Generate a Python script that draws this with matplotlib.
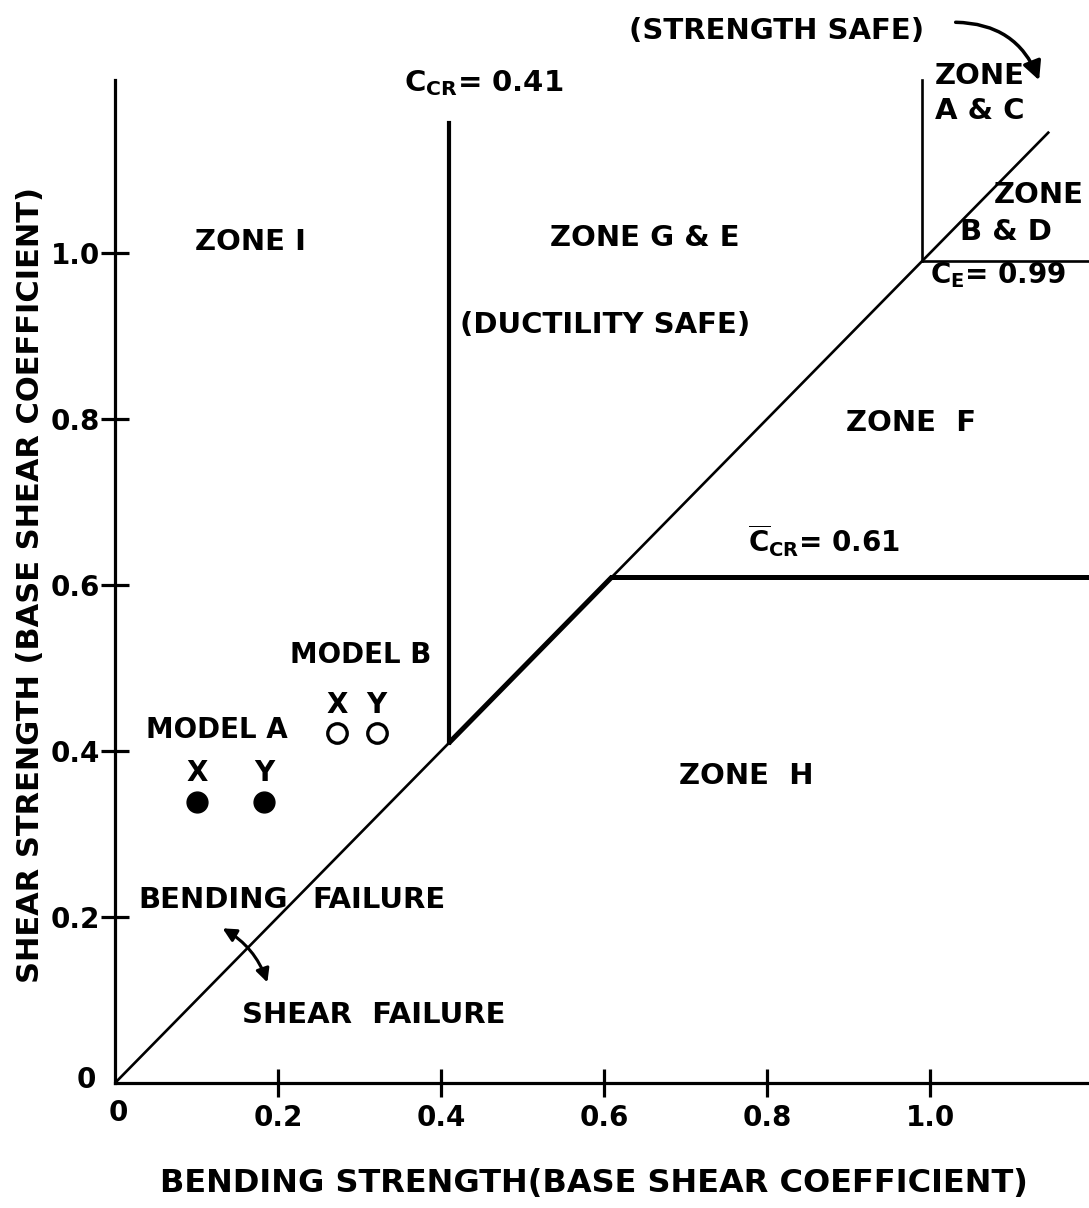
import numpy as np
import matplotlib
matplotlib.use("Agg")
import matplotlib.pyplot as plt

plt.rcParams['font.family'] = ['DejaVu Sans']
plt.rcParams['font.weight'] = 'bold'
plt.rcParams['mathtext.fontset'] = 'custom'
plt.rcParams['mathtext.rm'] = 'DejaVu Sans:bold'
plt.rcParams['mathtext.it'] = 'DejaVu Sans:bold'
plt.rcParams['mathtext.bf'] = 'DejaVu Sans:bold'
plt.rcParams['mathtext.default'] = 'bf'

# boundary coefficients
c_cr = 0.41
c_cr_bar = 0.61
c_e = 0.99
diag_end = 1.145
x_max = 1.195
y_max = 1.30

# model results (bending, shear)
model_a_x = [0.101, 0.183]
model_a_y = [0.339, 0.339]
model_b_x = [0.272, 0.321]
model_b_y = [0.422, 0.422]
dir_labels = ['X', 'Y']

ticks = [0.2, 0.4, 0.6, 0.8, 1.0]
tick_labels = ['0.2', '0.4', '0.6', '0.8', '1.0']

fig = plt.figure(figsize=(10.89, 12.08), dpi=100)
ax = fig.add_axes([115 / 1089, 1 - 1083 / 1208, 974 / 1089, y_max * 830 / 1208])
ax.set_xlim(0, x_max)
ax.set_ylim(0, y_max)

for s in ['top', 'right']:
    ax.spines[s].set_visible(False)
ax.spines['left'].set_bounds(0, 1.208)
ax.spines['left'].set_linewidth(2.3)
ax.spines['bottom'].set_linewidth(2.3)

ax.set_xticks(ticks)
ax.set_xticklabels(tick_labels)
ax.set_yticks(ticks)
ax.set_yticklabels(tick_labels)
ax.tick_params(axis='both', direction='inout', length=20, width=2.3,
               labelsize=20, colors='black')
ax.tick_params(axis='x', pad=5)
ax.tick_params(axis='y', pad=1)
ax.text(-0.035, 0.004, '0', fontsize=20, ha='center', va='center')
ax.text(0.004, -0.036, '0', fontsize=20, ha='center', va='center')

# boundary lines
lw_thin, lw_thick = 1.9, 3.6
ax.plot([0, diag_end], [0, diag_end], color='black', lw=lw_thin)
ax.plot([c_cr, c_cr_bar], [c_cr, c_cr_bar], color='black', lw=lw_thick,
        solid_capstyle='butt')
ax.plot([c_cr, c_cr], [c_cr, 1.157], color='black', lw=3.0)
ax.plot([c_cr_bar, x_max], [c_cr_bar, c_cr_bar], color='black', lw=lw_thick,
        clip_on=False)
ax.plot([c_e, c_e], [c_e, 1.208], color='black', lw=lw_thin)
ax.plot([c_e, x_max], [c_e, c_e], color='black', lw=lw_thin, clip_on=False)

# model points
ax.plot(model_a_x, model_a_y, 'o', color='black', ms=15)
ax.plot(model_b_x, model_b_y, 'o', mfc='white', mec='black', mew=2.4, ms=14)
for x, lab in zip(model_a_x, dir_labels):
    ax.text(x, 0.373, lab, fontsize=20, ha='center', va='center')
for x, lab in zip(model_b_x, dir_labels):
    ax.text(x, 0.455, lab, fontsize=20, ha='center', va='center')
ax.text(0.125, 0.425, 'MODEL A', fontsize=20, ha='center', va='center')
ax.text(0.302, 0.516, 'MODEL B', fontsize=20, ha='center', va='center')

fs = 21
ax.text(0.166, 1.013, 'ZONE I', fontsize=fs, ha='center', va='center')
ax.text(0.650, 1.018, 'ZONE G & E', fontsize=fs, ha='center', va='center')
ax.text(0.601, 0.913, '(DUCTILITY SAFE)', fontsize=fs, ha='center', va='center')
ax.text(0.977, 0.795, 'ZONE  F', fontsize=fs, ha='center', va='center')
ax.text(0.775, 0.370, 'ZONE  H', fontsize=fs, ha='center', va='center')
ax.text(1.006, 1.192, 'ZONE\nA & C', fontsize=fs, ha='left', va='center',
        linespacing=1.3)
ax.text(1.188, 1.070, 'ZONE', fontsize=fs, ha='right', va='center')
ax.text(1.093, 1.025, 'B & D', fontsize=fs, ha='center', va='center')
ax.text(0.355, 1.205, r'$C_{CR}$= 0.41', fontsize=fs, ha='left', va='center')
ax.text(1.0, 0.973, r'$C_E$= 0.99', fontsize=20, ha='left', va='center')
ax.text(0.777, 0.654, r'$\overline{C}_{CR}$= 0.61', fontsize=20, ha='left', va='center')
ax.text(0.812, 1.268, '(STRENGTH SAFE)', fontsize=fs, ha='center', va='center')

ax.text(0.121, 0.220, 'BENDING', fontsize=fs, ha='center', va='center')
ax.text(0.324, 0.220, 'FAILURE', fontsize=fs, ha='center', va='center')
ax.text(0.318, 0.082, 'SHEAR  FAILURE', fontsize=fs, ha='center', va='center')

ax.annotate('', xy=(1.135, 1.205), xytext=(1.028, 1.278),
            arrowprops=dict(arrowstyle='-|>', connectionstyle='arc3,rad=-0.35',
                            lw=2.5, color='black', mutation_scale=28))
ax.annotate('', xy=(0.188, 0.118), xytext=(0.129, 0.188),
            arrowprops=dict(arrowstyle='<|-|>', connectionstyle='arc3,rad=-0.2',
                            lw=2.2, color='black', mutation_scale=20))

ax.set_xlabel('BENDING STRENGTH(BASE SHEAR COEFFICIENT)', fontsize=23,
              fontweight='bold')
ax.set_ylabel('SHEAR STRENGTH (BASE SHEAR COEFFICIENT)', fontsize=22,
              fontweight='bold')
ax.xaxis.set_label_coords(0.492, -0.079)
ax.yaxis.set_label_coords(-0.072, 0.462)

fig.savefig('out.png', dpi=100)
